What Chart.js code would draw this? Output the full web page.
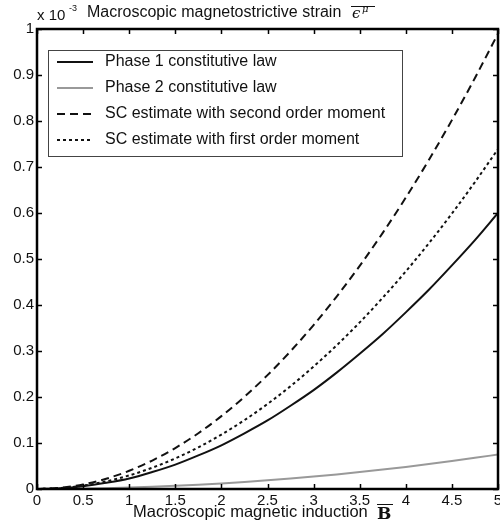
<!DOCTYPE html>
<html>
<head>
<meta charset="utf-8">
<script src="https://cdn.jsdelivr.net/npm/chart.js@4/dist/chart.umd.min.js"></script>
<style>
  body { margin: 0; background: #fff; }
  canvas { display: block; }
</style>
</head>
<body>
<canvas id="strain" width="500" height="527"></canvas>
<script>
  // magnetic induction B (T)
  const induction = [0, 0.25, 0.5, 0.75, 1, 1.25, 1.5, 1.75, 2, 2.25, 2.5,
    2.75, 3, 3.25, 3.5, 3.75, 4, 4.25, 4.5, 4.75, 5];

  // strain values, in units of 1e-3
  const phase1 = [0, 0.0015, 0.006, 0.0135, 0.023, 0.037, 0.053, 0.073, 0.095, 0.121,
    0.149, 0.181, 0.215, 0.253, 0.294, 0.337, 0.384, 0.433, 0.486, 0.541, 0.6];
  const phase2 = [0, 0.0002, 0.0008, 0.0017, 0.003, 0.0047, 0.0068, 0.0092, 0.012, 0.0152,
    0.0188, 0.0227, 0.027, 0.0317, 0.0368, 0.0422, 0.048, 0.0542, 0.0608, 0.0677, 0.075];
  const scSecond = [0, 0.0025, 0.0099, 0.0223, 0.0396, 0.0619, 0.0891, 0.1213, 0.1584, 0.2005,
    0.2475, 0.2995, 0.3564, 0.4183, 0.4851, 0.5569, 0.6336, 0.7153, 0.8019, 0.8935, 0.99];
  const scFirst = [0, 0.0018, 0.0074, 0.0166, 0.0295, 0.0462, 0.0665, 0.0905, 0.1183, 0.1497,
    0.1848, 0.2236, 0.2661, 0.3123, 0.3622, 0.4158, 0.4731, 0.5341, 0.5988, 0.6672, 0.739];

  const labels = [
    'Phase 1 constitutive law',
    'Phase 2 constitutive law',
    'SC estimate with second order moment',
    'SC estimate with first order moment'
  ];

  const pts = (ys) => induction.map((x, i) => ({ x: x, y: ys[i] }));
  const fontFam = '"Liberation Sans", Arial, sans-serif';
  const fmt = (v) => String(Number(v.toFixed(2)));

  const data = {
    datasets: [{
      label: labels[0],
      data: pts(phase1),
      borderColor: '#111',
      borderWidth: 2,
    },
    {
      label: labels[1],
      data: pts(phase2),
      borderColor: '#999',
      borderWidth: 2,
    },
    {
      label: labels[2],
      data: pts(scSecond),
      borderColor: '#111',
      borderWidth: 2,
      borderDash: [8, 5],
    },
    {
      label: labels[3],
      data: pts(scFirst),
      borderColor: '#111',
      borderWidth: 2,
      borderDash: [3, 3],
    }]
  };

  // box, inward ticks, texts and legend in matlab style
  const matlabBox = {
    id: 'matlabBox',
    afterDatasetsDraw(chart) {
      const ctx = chart.ctx;
      const a = chart.chartArea;
      const xs = chart.scales.x, ys = chart.scales.y;
      ctx.save();
      ctx.strokeStyle = '#000';
      ctx.lineWidth = 1.5;
      ctx.beginPath();
      xs.ticks.forEach(t => {
        const px = Math.round(xs.getPixelForValue(t.value)) + 0.5;
        ctx.moveTo(px, a.bottom); ctx.lineTo(px, a.bottom - 5);
        ctx.moveTo(px, a.top); ctx.lineTo(px, a.top + 5);
      });
      ys.ticks.forEach(t => {
        const py = Math.round(ys.getPixelForValue(t.value)) + 0.5;
        ctx.moveTo(a.left, py); ctx.lineTo(a.left + 5, py);
        ctx.moveTo(a.right, py); ctx.lineTo(a.right - 5, py);
      });
      ctx.stroke();
      ctx.lineWidth = 2.5;
      ctx.strokeRect(a.left, a.top, a.right - a.left, a.bottom - a.top);

      // legend
      const lx = 48, ly = 50, lw = 354, lh = 106;
      ctx.fillStyle = '#fff';
      ctx.fillRect(lx, ly, lw, lh);
      ctx.lineWidth = 1;
      ctx.strokeStyle = '#444';
      ctx.strokeRect(lx + 0.5, ly + 0.5, lw, lh);
      ctx.font = '16px ' + fontFam;
      ctx.textBaseline = 'middle';
      chart.data.datasets.forEach((ds, i) => {
        const y = 62 + i * 26;
        ctx.beginPath();
        ctx.setLineDash(ds.borderDash || []);
        ctx.strokeStyle = ds.borderColor;
        ctx.lineWidth = 2;
        ctx.moveTo(57, y); ctx.lineTo(93, y);
        ctx.stroke();
        ctx.setLineDash([]);
        ctx.fillStyle = '#111';
        ctx.fillText(ds.label, 105, y);
      });

      // top label
      ctx.fillStyle = '#111';
      ctx.strokeStyle = '#111';
      ctx.textBaseline = 'alphabetic';
      ctx.font = '15px ' + fontFam;
      ctx.fillText('x 10', 37, 20);
      ctx.font = '9px ' + fontFam;
      ctx.fillText('-3', 69, 11);
      ctx.font = '16px ' + fontFam;
      ctx.fillText('Macroscopic magnetostrictive strain', 87, 17);
      ctx.font = 'italic 15px "DejaVu Serif", serif';
      ctx.fillText('\u03F5', 352, 18);
      ctx.font = 'italic 10px "DejaVu Serif", serif';
      ctx.fillText('\u03BC', 362, 12);
      ctx.lineWidth = 1;
      ctx.beginPath();
      ctx.moveTo(351, 6.5); ctx.lineTo(375, 6.5);
      ctx.stroke();

      // bottom label
      ctx.font = '16.5px ' + fontFam;
      ctx.fillText('Macroscopic magnetic induction', 133, 517);
      ctx.font = 'bold 17px "DejaVu Serif", serif';
      ctx.fillText('B', 377, 519);
      ctx.beginPath();
      ctx.moveTo(377, 504.5); ctx.lineTo(393, 504.5);
      ctx.stroke();
      ctx.restore();
    }
  };

  const config = {
    type: 'line',
    data: data,
    options: {
      responsive: false,
      animation: false,
      devicePixelRatio: 1,
      layout: { padding: { top: 29, right: 2, left: 0, bottom: 0 } },
      elements: { point: { radius: 0 }, line: { cubicInterpolationMode: 'monotone' } },
      plugins: { legend: { display: false }, tooltip: { enabled: false } },
      scales: {
        x: {
          type: 'linear',
          min: 0,
          max: 5,
          ticks: { stepSize: 0.5, color: '#111', padding: 3, maxRotation: 0,
            font: { family: fontFam, size: 15 }, callback: fmt },
          grid: { display: false, drawTicks: false },
          border: { display: false },
          afterFit(s) { s.height = 38; s.paddingLeft = 0; s.paddingRight = 0; }
        },
        y: {
          min: 0,
          max: 1,
          ticks: { stepSize: 0.1, color: '#111', padding: 3,
            font: { family: fontFam, size: 15 }, callback: fmt },
          grid: { display: false, drawTicks: false },
          border: { display: false },
          afterFit(s) { s.width = 37; s.paddingTop = 0; s.paddingBottom = 0; }
        }
      }
    },
    plugins: [matlabBox]
  };

  const myChart = new Chart(
    document.getElementById('strain'),
    config
  );
</script>
</body>
</html>
